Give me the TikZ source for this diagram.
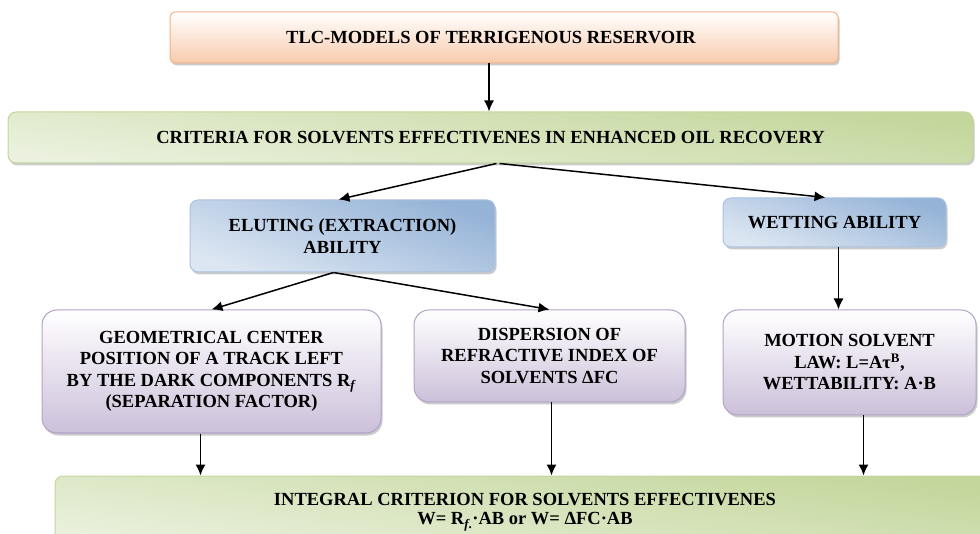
\documentclass[tikz,border=0pt]{standalone}
\usepackage{fontspec}
\setmainfont{Liberation Serif}
\usetikzlibrary{arrows.meta,shadows}
\definecolor{peach}{HTML}{F8CBAD}
\definecolor{peachline}{HTML}{F4B183}
\definecolor{lime}{HTML}{C3D69B}
\definecolor{limelight}{HTML}{EBF1DE}
\definecolor{sky}{HTML}{95B3D7}
\definecolor{skylight}{HTML}{DCE6F2}
\definecolor{lilac}{HTML}{CCC0DA}
\definecolor{lilacline}{HTML}{B3A2C7}

\begin{document}
\begin{tikzpicture}[x=1pt,y=-1pt,>={Latex[length=11pt,width=10pt]},
  box/.style={line width=1pt,align=center,inner sep=0pt,
    font=\bfseries\fontsize{18.5}{21.5}\selectfont,
    drop shadow={shadow xshift=1.5pt,shadow yshift=-2.5pt,fill=black!45,opacity=.45}},
  peachbox/.style={box,draw=peachline,rounded corners=5pt,top color=white,bottom color=peach},
  limebox/.style={box,draw=lime,rounded corners=8pt,top color=lime,bottom color=limelight,shading angle=-8},
  skybox/.style={box,draw=sky!80,rounded corners=8pt,top color=sky,bottom color=skylight,shading angle=-20},
  lilacbox/.style={box,draw=lilacline,rounded corners=15pt,top color=white,bottom color=lilac},
  link/.style={->,line width=1.5pt}]
\useasboundingbox (0,0) rectangle (980,534);
% boxes
\node[peachbox,minimum width=668,minimum height=51] (tlc) at (504,37.5) {TLC-MODELS OF TERRIGENOUS RESERVOIR\hspace*{26pt}};
\node[limebox,minimum width=965,minimum height=51] (crit) at (490.5,137.5) {CRITERIA FOR SOLVENTS EFFECTIVENES IN ENHANCED OIL RECOVERY};
\node[skybox,minimum width=305,minimum height=72] (elut) at (342.5,236) {ELUTING (EXTRACTION)\\ABILITY};
\node[skybox,minimum width=223,minimum height=49] (wet) at (834.5,222.5) {WETTING ABILITY};
\node[lilacbox,minimum width=339,minimum height=123] (geo) at (211.5,371.5) {GEOMETRICAL CENTER\\POSITION OF A TRACK LEFT\\BY THE DARK COMPONENTS R\textsubscript{\textit{f}}\\(SEPARATION FACTOR)};
\node[lilacbox,minimum width=271,minimum height=92] (disp) at (549.5,356) {DISPERSION OF\\REFRACTIVE INDEX OF\\SOLVENTS ΔFC};
\node[lilacbox,minimum width=253,minimum height=105] (mot) at (849.5,362.5) {MOTION SOLVENT\\LAW: L=Aτ\textsuperscript{B},\\WETTABILITY: A·B};
\node[limebox,minimum width=940,minimum height=72,font=\bfseries\fontsize{18.5}{19.5}\selectfont] (integ) at (525,512) {INTEGRAL CRITERION FOR SOLVENTS EFFECTIVENES\\W= R\textsubscript{\textit{f}.}·AB or W= ΔFC·AB};
% arrows
\draw[link] ([xshift=-15pt]tlc.south) -- ([xshift=-15pt]tlc.south |- crit.north);
\draw[link] ([xshift=6pt]crit.south) -- ([xshift=-4pt]elut.north);
\draw[link] ([xshift=9pt]crit.south) -- ([xshift=-9pt]wet.north);
\draw[link] ([xshift=-9pt]elut.south) -- (geo.north);
\draw[link] ([xshift=-9pt]elut.south) -- (disp.north);
\draw[link] ([xshift=4pt]wet.south) -- ([xshift=4pt]wet.south |- mot.north);
\draw[link] ([xshift=-11pt]geo.south) -- ([xshift=-11pt]geo.south |- integ.north);
\draw[link] ([xshift=2pt]disp.south) -- ([xshift=2pt]disp.south |- integ.north);
\draw[link] ([xshift=14pt]mot.south) -- ([xshift=14pt]mot.south |- integ.north);
\end{tikzpicture}
\end{document}
